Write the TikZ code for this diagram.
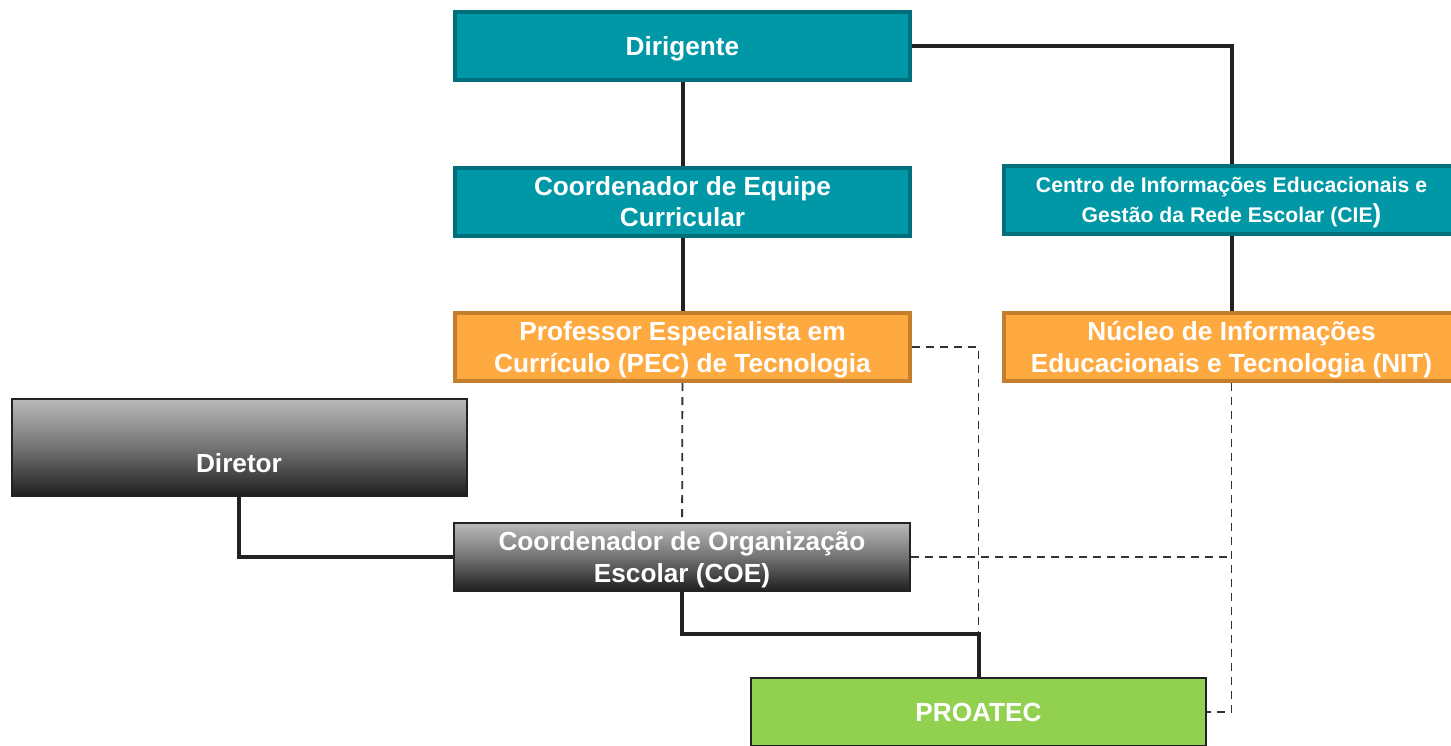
\documentclass[tikz,border=0pt]{standalone}
\usepackage{fontspec}
\setmainfont{Liberation Sans}
\usepackage{xcolor}
\usepackage{tikz}
\usetikzlibrary{arrows}

\definecolor{tealfill}{HTML}{0098A6}
\definecolor{tealdraw}{HTML}{006F7B}
\definecolor{orangefill}{HTML}{FFAA40}
\definecolor{orangedraw}{HTML}{C47E2E}
\definecolor{greenfill}{HTML}{92D150}
\definecolor{linkcol}{HTML}{222222}

\begin{document}
\begin{tikzpicture}[x=0.5pt,y=-0.5pt,inner sep=0pt,
  box/.style={rectangle,minimum width=227.5pt,minimum height=34pt,align=center,text=white,
    font=\bfseries\fontsize{13.1}{16}\selectfont,text depth=0pt},
  teambox/.style={box,fill=tealfill,draw=tealdraw,line width=2pt},
  nucbox/.style={box,fill=orangefill,draw=orangedraw,line width=2pt},
  greybox/.style={box,draw=linkcol,line width=1pt,top color=black!27,bottom color=black!88,
    middle color=black!55},
  greenbox/.style={box,fill=greenfill,draw=linkcol,line width=1pt},
  solid link/.style={draw=linkcol,line width=2pt},
  dash link/.style={draw=black!80,line width=0.9pt,dash pattern=on 4pt off 3pt}]
\useasboundingbox (0,0) rectangle (1451,745);

\node[teambox] (Dir) at (682.5,46) {Dirigente};
\node[teambox] (CEC) at (682.5,201.5) {Coordenador de Equipe\\Curricular};
\node[teambox,font=\bfseries\fontsize{10.6}{15}\selectfont]
  (CIE) at (1231.5,200) {Centro de Informações Educacionais e\\Gestão da Rede Escolar (CIE\fontsize{13}{15}\selectfont)};
\node[nucbox] (PEC) at (682.5,347) {Professor Especialista em\\Currículo (PEC) de Tecnologia};
\node[nucbox] (NIT) at (1231.5,347) {Núcleo de Informações\\Educacionais e Tecnologia (NIT)};
\node[greybox,minimum height=48.5pt,text height=24.9pt] (Diretor) at (239,447.5) {Diretor};
\node[greybox,minimum width=228pt] (COE) at (682,557) {Coordenador de Organização\\Escolar (COE)};
\node[greenbox] (PRO) at (978.5,712) {PROATEC};

% dashed links
\path (PEC) edge [dash link] (COE);
\draw[dash link] (PEC.east) -| (PRO.north);
\draw[dash link] (COE.east) -- (COE.east -| NIT.south);
\draw[dash link] (NIT.south) |- (PRO.east);

% solid links
\path (Dir) edge [solid link] (CEC);
\path (CEC) edge [solid link] (PEC);
\path (CIE) edge [solid link] (NIT);
\draw[solid link] (Dir.east) -| (CIE.north);
\draw[solid link] (Diretor.south) |- (COE.west);
\draw[solid link] (COE.south) -- ++(0,-21pt) -| (PRO.north);
\end{tikzpicture}
\end{document}
